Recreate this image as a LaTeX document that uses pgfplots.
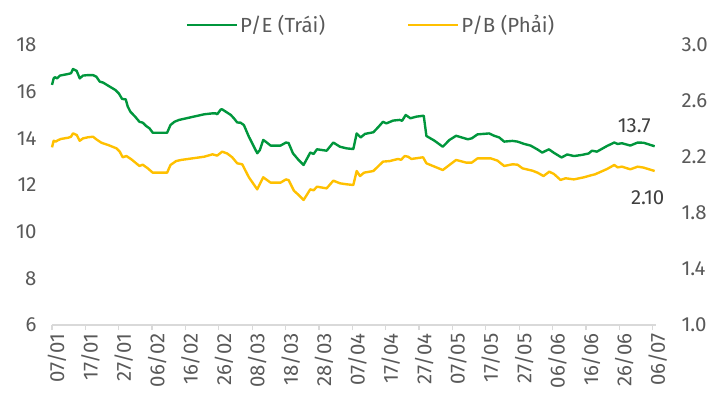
\documentclass[border=0pt]{standalone}
\usepackage{pgfplots}
\pgfplotsset{compat=1.18}
\usepackage{fontspec}
\setmainfont{Fira Sans}
\definecolor{pegreen}{RGB}{0,150,60}
\definecolor{pbyellow}{RGB}{255,192,0}
\definecolor{txtgray}{RGB}{89,89,89}
\definecolor{lbldark}{RGB}{64,64,64}
\definecolor{axgray}{RGB}{217,217,217}
\newcommand{\chartfont}{\fontsize{20.5}{23}\selectfont}
\begin{document}
\begin{tikzpicture}
\useasboundingbox (-52bp,-84bp) rectangle (664bp,325bp);
\begin{axis}[
  at={(0,0)}, anchor=south west,
  scale only axis, width=604bp, height=280bp,
  xmin=0, xmax=181, ymin=6, ymax=18,
  ytick={6,8,...,18},
  xtick={0,10,...,180},
  xticklabels={07/01,17/01,27/01,06/02,16/02,26/02,08/03,18/03,28/03,07/04,17/04,27/04,07/05,17/05,27/05,06/06,16/06,26/06,06/07},
  axis x line*=bottom, axis y line*=left,
  x axis line style={draw=axgray, line width=1.3pt, -},
  y axis line style={draw=none},
  xtick style={draw=axgray, line width=1.3pt},
  ytick style={draw=none},
  tick align=outside, major tick length=5bp,
  x tick label style={rotate=90, anchor=east, yshift=-5bp, font=\chartfont, text=txtgray},
  y tick label style={font=\chartfont, text=txtgray, xshift=-7bp},
  /pgf/number format/assume math mode=true,
  clip=false,
]
\addplot[pegreen, line width=2.4pt, line join=round] coordinates {
(0,16.29)(0.5,16.57)(0.9,16.62)(1.5,16.57)(2.4,16.69)(4.9,16.76)(5.7,16.79)(6.3,16.97)(7.4,16.89)(8.3,16.57)(9.3,16.69)(10.8,16.71)(12.3,16.71)(13.3,16.64)(14.3,16.43)(15.3,16.39)(16.8,16.26)(19.0,16.07)(20.0,15.93)(21.0,15.69)(22.1,15.67)(22.7,15.36)(23.5,15.14)(24.9,14.93)(26.2,14.71)(27.2,14.67)(28.2,14.53)(29.2,14.43)(30.2,14.24)(32.2,14.24)(34.5,14.24)(35.5,14.57)(36.7,14.71)(38.1,14.79)(45.6,15.03)(48.1,15.07)(49.1,15.07)(49.5,15.03)(50.6,15.24)(51.0,15.24)(52.1,15.14)(53.6,15.00)(54.5,14.86)(55.5,14.68)(56.5,14.67)(57.5,14.57)(59.0,14.07)(61.5,13.36)(62.3,13.50)(63.3,13.93)(64.1,13.85)(65.5,13.69)(68.5,13.69)(70.1,13.82)(70.9,13.80)(72.2,13.36)(73.9,13.07)(75.4,12.86)(77.4,13.39)(78.4,13.33)(79.4,13.53)(82.3,13.47)(84.3,13.82)(86.3,13.64)(88.3,13.57)(90.3,13.54)(91.3,14.21)(92.5,14.04)(93.8,14.19)(96.3,14.26)(97.7,14.47)(99.2,14.71)(100.2,14.64)(102.2,14.76)(104.2,14.79)(104.9,14.75)(106.0,15.00)(107.4,14.86)(109.2,14.93)(111.4,14.97)(112.2,14.10)(114.6,13.90)(117.1,13.64)(119.1,13.93)(121.1,14.11)(122.5,14.05)(124.6,13.96)(125.8,14.00)(127.5,14.17)(131.0,14.21)(132.5,14.11)(134.0,14.04)(135.5,13.86)(138.0,13.89)(139.5,13.86)(141.5,13.76)(143.4,13.69)(145.4,13.53)(146.9,13.39)(148.9,13.53)(150.4,13.38)(152.7,13.18)(154.4,13.31)(156.4,13.24)(158.8,13.29)(160.8,13.35)(161.8,13.47)(163.3,13.43)(166.3,13.67)(168.5,13.82)(169.5,13.76)(170.8,13.79)(173.3,13.69)(175.5,13.82)(177.3,13.81)(180.6,13.66)
};
\node[font=\chartfont, text=lbldark] at (axis cs:174.5,14.53) {13.7};
\end{axis}
\begin{axis}[
  at={(0,0)}, anchor=south west,
  scale only axis, width=604bp, height=280bp,
  xmin=0, xmax=181, ymin=1, ymax=3,
  ytick={1.0,1.4,...,3.0},
  hide x axis,
  axis y line*=right,
  y axis line style={draw=none},
  ytick style={draw=none},
  y tick label style={font=\chartfont, text=txtgray, xshift=22bp, /pgf/number format/fixed, /pgf/number format/fixed zerofill, /pgf/number format/precision=1},
  /pgf/number format/assume math mode=true,
  clip=false,
  legend style={at={(0.5,1)}, anchor=center, xshift=17bp, yshift=20bp, draw=none, fill=none, font=\chartfont, text=txtgray, legend columns=2, /tikz/every even column/.append style={column sep=80bp}},
  legend image code/.code={\draw[#1] (0bp,0bp) -- (50bp,0bp);},
]
\addlegendimage{pegreen, line width=2.4pt}
\addlegendentry{P/E (Trái)}
\addplot[pbyellow, line width=2.4pt, line join=round] coordinates {
(0,2.269)(0.5,2.316)(1.1,2.310)(1.9,2.321)(2.7,2.329)(4.9,2.338)(5.7,2.345)(6.3,2.369)(7.4,2.357)(8.3,2.316)(9.3,2.333)(10.8,2.341)(12.3,2.345)(13.3,2.326)(14.8,2.302)(16.8,2.286)(19.3,2.262)(20.3,2.238)(21.2,2.198)(22.3,2.207)(23.8,2.183)(26.2,2.136)(27.2,2.145)(28.7,2.119)(30.2,2.088)(34.5,2.088)(35.5,2.143)(37.2,2.171)(38.7,2.179)(45.6,2.202)(48.1,2.219)(49.5,2.210)(51.0,2.238)(52.5,2.225)(54.0,2.198)(55.5,2.155)(57.0,2.148)(59.0,2.055)(61.5,1.969)(63.3,2.055)(65.5,2.017)(68.5,2.017)(70.1,2.040)(70.9,2.035)(72.5,1.959)(73.9,1.929)(75.4,1.893)(77.4,1.969)(78.4,1.962)(79.4,1.988)(82.3,1.976)(84.3,2.031)(86.3,2.012)(88.3,2.005)(90.3,2.000)(91.3,2.100)(92.3,2.064)(93.5,2.088)(96.3,2.100)(99.2,2.167)(101.2,2.171)(103.7,2.186)(104.6,2.180)(105.7,2.207)(106.7,2.202)(107.7,2.186)(111.2,2.198)(112.2,2.155)(117.1,2.107)(119.1,2.143)(121.1,2.179)(124.1,2.160)(125.8,2.160)(127.5,2.190)(131.5,2.190)(133.5,2.174)(135.5,2.136)(138.0,2.148)(139.5,2.145)(141.0,2.119)(144.0,2.102)(145.5,2.088)(147.3,2.064)(149.0,2.095)(150.4,2.079)(152.4,2.036)(153.9,2.048)(156.4,2.040)(159.4,2.055)(161.8,2.071)(162.7,2.076)(166.3,2.114)(168.5,2.143)(169.5,2.126)(170.8,2.131)(173.3,2.112)(175.5,2.131)(177.3,2.124)(180.6,2.100)
};
\addlegendentry{P/B (Phải)}
\node[font=\chartfont, text=lbldark] at (axis cs:178.5,1.907) {2.10};
\end{axis}
\end{tikzpicture}
\end{document}
